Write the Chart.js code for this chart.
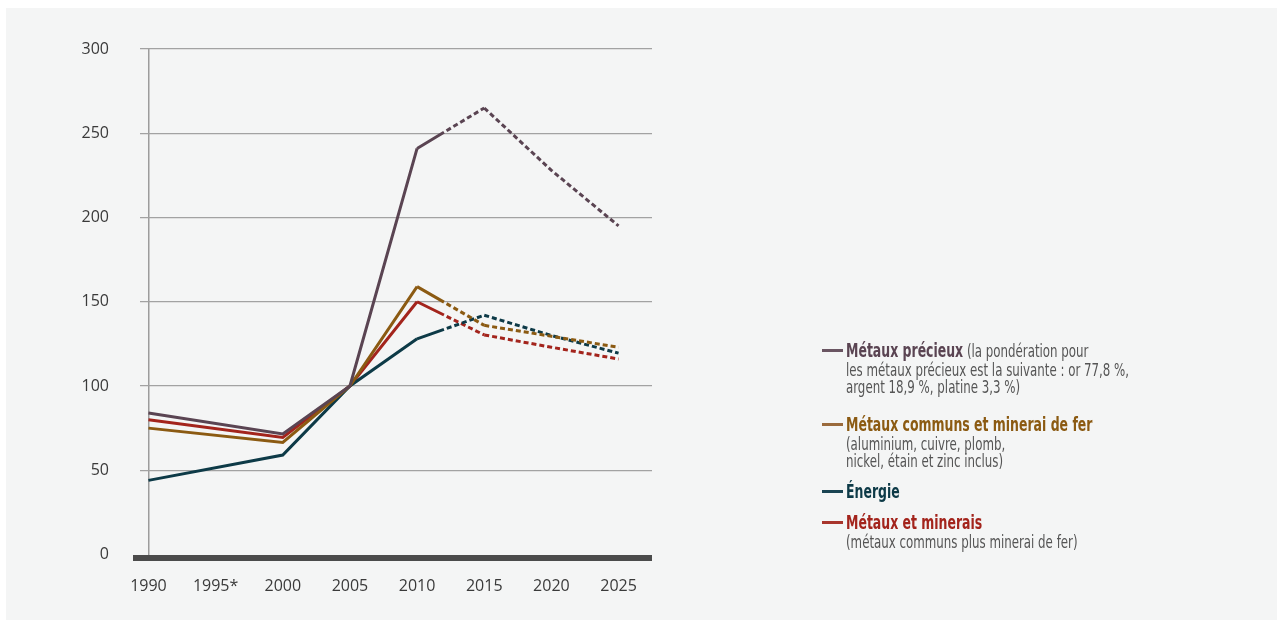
<!DOCTYPE html>
<html lang="fr">
<head>
<meta charset="UTF-8">
<title>Indices des prix des produits de base</title>
<script src="https://cdn.jsdelivr.net/npm/chart.js@4.4.0/dist/chart.umd.min.js"></script>
<style>
  html, body { margin: 0; padding: 0; background: #ffffff; }
  #wrap { position: relative; width: 1283px; height: 624px; overflow: hidden; }
  #panel { position: absolute; left: 6px; top: 8px; width: 1271px; height: 612px; background: #f4f5f5; }
  #chart { position: absolute; left: 0; top: 0; }
  #legend { position: absolute; left: 822px; top: 339px; font-family: "DejaVu Sans Condensed", "DejaVu Sans", sans-serif; font-stretch: condensed; font-size: 18px; color: #555; }
  .item { position: relative; padding-left: 24px; }
  .item .swatch { position: absolute; left: 0; top: 10px; width: 21px; height: 3px; }
  .item .txt { transform: scaleX(0.73); transform-origin: 0 0; white-space: nowrap; }
  .item .title { line-height: 22px; }
  .item .sub { line-height: 16.5px; }
  .item b { font-size: 19px; }
</style>
</head>
<body>
<div id="wrap">
  <div id="panel"></div>
  <canvas id="chart" width="1283" height="624"></canvas>
  <div id="legend"></div>
</div>
<script>
// years with data points (2015 onwards are projections)
const years = [1990, 2000, 2005, 2010, 2015, 2020, 2025];
const lastObservedYear = 2012;

const precieux = [84, 71.5, 100, 241, 265, 228, 195];
const communs  = [75, 66.5, 100, 159, 136, 129.5, 123];
const energie  = [44, 59, 100, 128, 142, 130, 119.5];
const minerais = [80, 69.5, 100, 150, 130.3, 123, 116];

const xTicks = [1990, 1995, 2000, 2005, 2010, 2015, 2020, 2025];
const xTickLabels = ['1990', '1995*', '2000', '2005', '2010', '2015', '2020', '2025'];
const yTicks = [0, 50, 100, 150, 200, 250, 300];

const series = [
  { name: 'Métaux précieux', data: precieux, color: '#5a4452', legendColor: '#6a5562',
    note: ' (la pondération pour', lines: ['les métaux précieux est la suivante : or 77,8 %,', 'argent 18,9 %, platine 3,3 %)'], gap: 18 },
  { name: 'Métaux communs et minerai de fer', data: communs, color: '#8b5a12', legendColor: '#9a6a3c',
    note: '', lines: ['(aluminium, cuivre, plomb,', 'nickel, étain et zinc inclus)'], gap: 11 },
  { name: 'Énergie', data: energie, color: '#0d3a47', legendColor: '#1a4452', note: '', lines: [], gap: 8 },
  { name: 'Métaux et minerais', data: minerais, color: '#a3241c', legendColor: '#a8352c',
    note: '', lines: ['(métaux communs plus minerai de fer)'], gap: 0 }
];

// dash pattern: solid until last observed year, dotted after
function dashFor(ctx) {
  const x0 = ctx.p0.parsed.x, x1 = ctx.p1.parsed.x;
  if (x1 <= lastObservedYear) return undefined;
  if (x0 >= lastObservedYear) return [5, 3];
  const len = Math.hypot(ctx.p1.x - ctx.p0.x, ctx.p1.y - ctx.p0.y);
  const solid = len * (lastObservedYear - x0) / (x1 - x0);
  const pat = [solid, 3];
  for (let i = 0; i < 30; i++) pat.push(5, 3);
  return pat;
}

const bottomBar = {
  id: 'bottomBar',
  afterDatasetsDraw(chart) {
    const c = chart.ctx;
    const y0 = chart.scales.y.getPixelForValue(0);
    c.save();
    c.fillStyle = '#4b4b4b';
    c.fillRect(133, y0 + 0.5, 652 - 133, 6);
    c.restore();
  }
};

const tickFont = { family: '"Open Sans", sans-serif', size: 16 };

new Chart(document.getElementById('chart'), {
  type: 'line',
  data: {
    datasets: series.map(s => ({
      label: s.name,
      data: years.map((yr, i) => ({ x: yr, y: s.data[i] })),
      borderColor: s.color,
      borderWidth: 3,
      pointRadius: 0,
      tension: 0,
      segment: { borderDash: dashFor }
    }))
  },
  options: {
    responsive: false,
    animation: false,
    layout: { padding: { left: 0, top: 49, right: 631, bottom: 0 } },
    plugins: { legend: { display: false }, tooltip: { enabled: false } },
    scales: {
      x: {
        type: 'linear',
        min: 1989.37,
        max: 2027.49,
        afterBuildTicks: scale => { scale.ticks = xTicks.map(v => ({ value: v })); },
        afterFit: scale => { scale.height = 624 - 554.5; },
        border: { display: false },
        grid: {
          drawTicks: false,
          color: ctx => (ctx.tick && ctx.tick.value === 1990 ? '#9c9c9c' : 'rgba(0,0,0,0)'),
          lineWidth: 1.5
        },
        ticks: {
          padding: 22,
          maxRotation: 0,
          autoSkip: false,
          color: '#3a3a3a',
          font: tickFont,
          callback: v => xTickLabels[xTicks.indexOf(v)]
        }
      },
      y: {
        min: 0,
        max: 300,
        afterBuildTicks: scale => { scale.ticks = yTicks.map(v => ({ value: v })); },
        afterFit: scale => { scale.width = 140; },
        border: { display: false },
        grid: {
          drawTicks: false,
          color: ctx => (ctx.tick && ctx.tick.value === 0 ? 'rgba(0,0,0,0)' : '#a2a2a2'),
          lineWidth: 1.2
        },
        ticks: { padding: 31, color: '#3a3a3a', font: tickFont }
      }
    }
  },
  plugins: [bottomBar]
});

// legend
const legend = document.getElementById('legend');
series.forEach(s => {
  const d = document.createElement('div');
  d.className = 'item';
  d.style.marginBottom = s.gap + 'px';
  let html = '<span class="swatch" style="background:' + s.legendColor + '"></span><div class="txt">' +
    '<div class="title"><b style="color:' + s.color + '">' + s.name + '</b>' + s.note + '</div>';
  s.lines.forEach(l => { html += '<div class="sub">' + l + '</div>'; });
  d.innerHTML = html + '</div>';
  legend.appendChild(d);
});
</script>
</body>
</html>
